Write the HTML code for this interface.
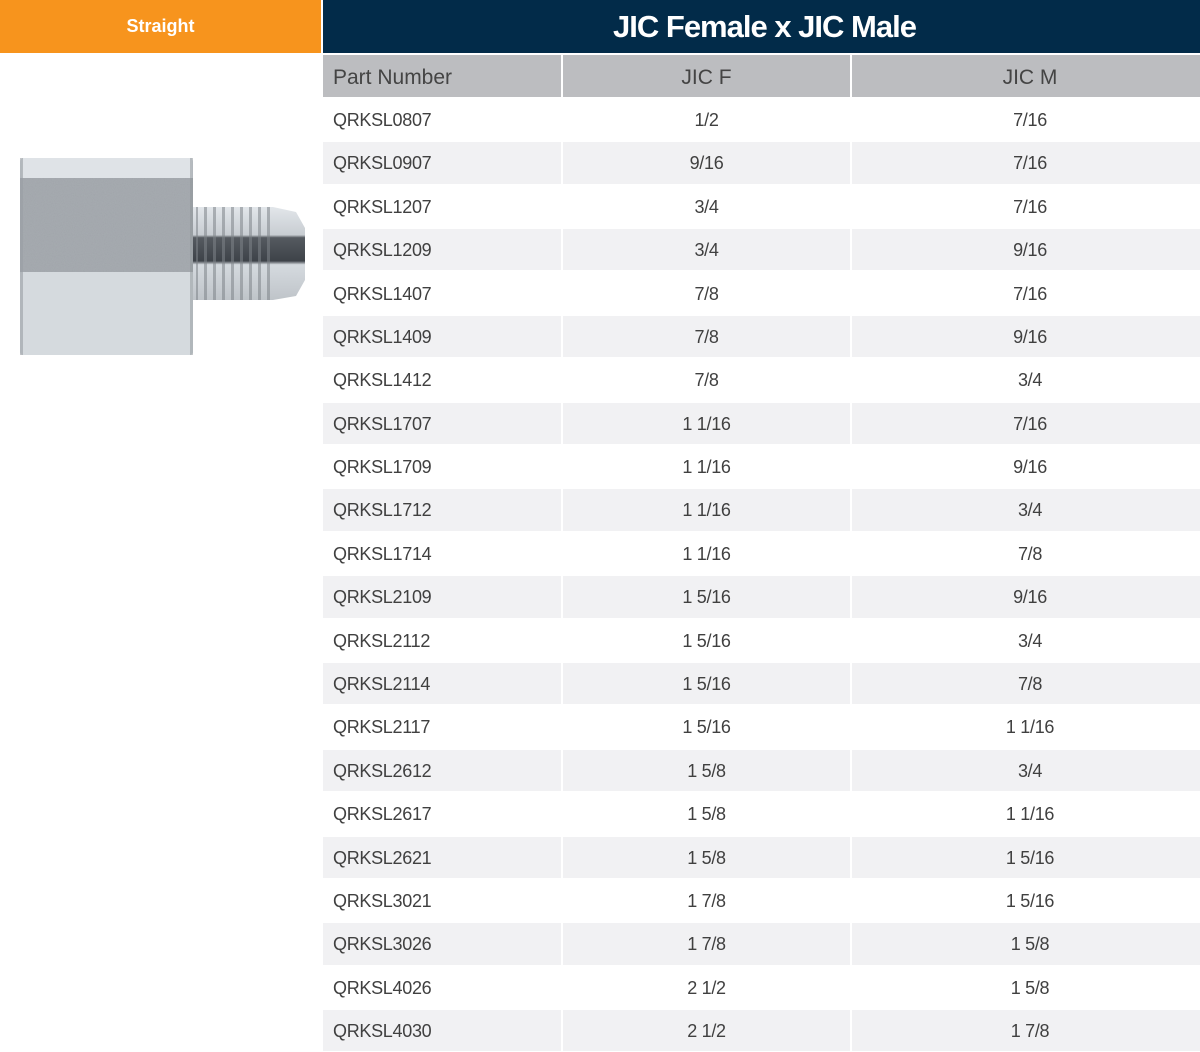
<!DOCTYPE html>
<html><head><meta charset="utf-8">
<style>
*{margin:0;padding:0;box-sizing:border-box}
html,body{width:1200px;height:1051px;background:#fff;overflow:hidden;font-family:"Liberation Sans",sans-serif}
.abs{position:absolute}
#orange{left:0;top:0;width:321px;height:53px;background:#f7941d;color:#fff;font-weight:bold;font-size:18px;text-align:center;line-height:52px}
#navy{left:323px;top:0;width:877px;height:53px;background:#022b49;color:#fff;font-weight:bold;font-size:31px;text-align:center;line-height:54px;letter-spacing:-1px;padding-left:6px}
.hdr{top:55px;height:42px;background:#bcbdc0;color:#444;font-size:21px;line-height:45px}
.row{position:absolute;left:323px;width:877px;height:43.38px;border-top:2px solid #fff}
.row.g .c{background:#f1f1f3}
.c{position:absolute;top:0;bottom:0;color:#404040;font-size:18px;line-height:42px;letter-spacing:-0.3px}
.c1{left:0;width:238px;padding-left:10px}
.c2{left:240px;width:287px;text-align:center}
.c3{left:529px;width:348px;text-align:center;padding-left:8px}
</style></head><body>
<div id="orange" class="abs">Straight</div>
<div id="navy" class="abs">JIC Female x JIC Male</div>
<div class="abs hdr" style="left:323px;width:238px;padding-left:10px">Part Number</div>
<div class="abs hdr" style="left:563px;width:287px;text-align:center">JIC F</div>
<div class="abs hdr" style="left:852px;width:348px;text-align:center;padding-left:8px">JIC M</div>

<svg class="abs" style="left:0;top:140px" width="320" height="240" viewBox="0 140 320 240">
<defs>
<linearGradient id="lb" x1="0" y1="0" x2="0" y2="1">
<stop offset="0" stop-color="#d9dee3"/><stop offset="0.5" stop-color="#d4d9de"/><stop offset="1" stop-color="#c6cbd0"/></linearGradient>
<linearGradient id="th" x1="0" y1="0" x2="0" y2="1">
<stop offset="0" stop-color="#e2e6ea"/><stop offset="0.3" stop-color="#c8cdd2"/><stop offset="0.33" stop-color="#555a60"/><stop offset="0.58" stop-color="#3e4349"/><stop offset="0.62" stop-color="#d5dadf"/><stop offset="1" stop-color="#bfc4c9"/></linearGradient>
<pattern id="tp" width="9" height="10" patternUnits="userSpaceOnUse"><rect x="6" width="3" height="10" fill="#7d8288" opacity="0.55"/></pattern>
<filter id="noise" x="0" y="0" width="100%" height="100%">
<feTurbulence type="fractalNoise" baseFrequency="0.9" numOctaves="2" seed="3"/>
<feColorMatrix values="0 0 0 0 0.35  0 0 0 0 0.37  0 0 0 0 0.4  0 0 0 1.4 -0.45"/>
<feComposite in2="SourceGraphic" operator="in"/>
</filter>
</defs>
<rect x="20" y="158" width="173" height="197" rx="4" fill="url(#lb)"/>
<rect x="22" y="158" width="170" height="20" fill="#dfe3e7"/>
<rect x="20" y="178" width="173" height="94" fill="#a5aaaf"/>
<rect x="20" y="178" width="173" height="94" fill="#fff" filter="url(#noise)"/>
<rect x="20" y="272" width="173" height="83" rx="3" fill="#d5dade"/>
<rect x="20" y="158" width="3" height="197" fill="#9a9fa4" opacity="0.6"/>
<rect x="190" y="158" width="3" height="197" fill="#8e9398" opacity="0.5"/>
<rect x="193" y="207" width="80" height="93" fill="url(#th)"/>
<rect x="196" y="207" width="77" height="93" fill="url(#tp)"/>
<polygon points="273,207 296,212 305,228 305,280 296,296 273,300" fill="url(#th)"/>
</svg>

<div class="row" style="top:97.0px"><div class="c c1">QRKSL0807</div><div class="c c2">1/2</div><div class="c c3">7/16</div></div>
<div class="row g" style="top:140.4px"><div class="c c1">QRKSL0907</div><div class="c c2">9/16</div><div class="c c3">7/16</div></div>
<div class="row" style="top:183.8px"><div class="c c1">QRKSL1207</div><div class="c c2">3/4</div><div class="c c3">7/16</div></div>
<div class="row g" style="top:227.1px"><div class="c c1">QRKSL1209</div><div class="c c2">3/4</div><div class="c c3">9/16</div></div>
<div class="row" style="top:270.5px"><div class="c c1">QRKSL1407</div><div class="c c2">7/8</div><div class="c c3">7/16</div></div>
<div class="row g" style="top:313.9px"><div class="c c1">QRKSL1409</div><div class="c c2">7/8</div><div class="c c3">9/16</div></div>
<div class="row" style="top:357.3px"><div class="c c1">QRKSL1412</div><div class="c c2">7/8</div><div class="c c3">3/4</div></div>
<div class="row g" style="top:400.7px"><div class="c c1">QRKSL1707</div><div class="c c2">1 1/16</div><div class="c c3">7/16</div></div>
<div class="row" style="top:444.0px"><div class="c c1">QRKSL1709</div><div class="c c2">1 1/16</div><div class="c c3">9/16</div></div>
<div class="row g" style="top:487.4px"><div class="c c1">QRKSL1712</div><div class="c c2">1 1/16</div><div class="c c3">3/4</div></div>
<div class="row" style="top:530.8px"><div class="c c1">QRKSL1714</div><div class="c c2">1 1/16</div><div class="c c3">7/8</div></div>
<div class="row g" style="top:574.2px"><div class="c c1">QRKSL2109</div><div class="c c2">1 5/16</div><div class="c c3">9/16</div></div>
<div class="row" style="top:617.6px"><div class="c c1">QRKSL2112</div><div class="c c2">1 5/16</div><div class="c c3">3/4</div></div>
<div class="row g" style="top:660.9px"><div class="c c1">QRKSL2114</div><div class="c c2">1 5/16</div><div class="c c3">7/8</div></div>
<div class="row" style="top:704.3px"><div class="c c1">QRKSL2117</div><div class="c c2">1 5/16</div><div class="c c3">1 1/16</div></div>
<div class="row g" style="top:747.7px"><div class="c c1">QRKSL2612</div><div class="c c2">1 5/8</div><div class="c c3">3/4</div></div>
<div class="row" style="top:791.1px"><div class="c c1">QRKSL2617</div><div class="c c2">1 5/8</div><div class="c c3">1 1/16</div></div>
<div class="row g" style="top:834.5px"><div class="c c1">QRKSL2621</div><div class="c c2">1 5/8</div><div class="c c3">1 5/16</div></div>
<div class="row" style="top:877.8px"><div class="c c1">QRKSL3021</div><div class="c c2">1 7/8</div><div class="c c3">1 5/16</div></div>
<div class="row g" style="top:921.2px"><div class="c c1">QRKSL3026</div><div class="c c2">1 7/8</div><div class="c c3">1 5/8</div></div>
<div class="row" style="top:964.6px"><div class="c c1">QRKSL4026</div><div class="c c2">2 1/2</div><div class="c c3">1 5/8</div></div>
<div class="row g" style="top:1008.0px"><div class="c c1">QRKSL4030</div><div class="c c2">2 1/2</div><div class="c c3">1 7/8</div></div>
</body></html>
